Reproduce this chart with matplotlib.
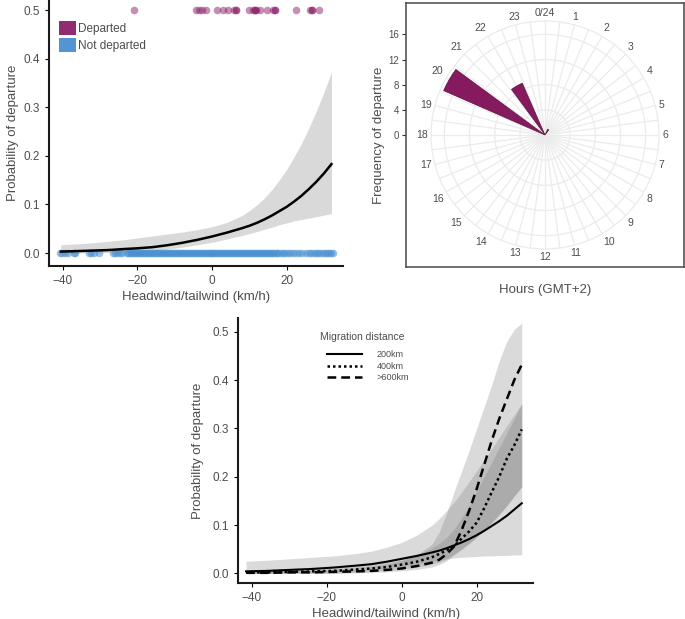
import numpy as np
import matplotlib
matplotlib.use("Agg")
import matplotlib.pyplot as plt
from matplotlib.patches import Patch

plt.rcParams['font.family'] = ['Liberation Sans', 'DejaVu Sans']

# ---------------- data: panel A (top-left) ----------------
departed_x = [-21.0, -4.3, -3.4, -2.7, -1.6, 1.4, 2.9, 4.3, 6.0, 6.4, 6.5,
              10.0, 11.1, 11.4, 11.5, 11.8, 12.9, 14.7, 16.3, 16.8, 16.9,
              22.5, 26.3, 26.8, 26.9, 28.6]
not_departed_x = [-40.6, -40.2, -39.5, -38.6, -37.0, -36.6, -33.0, -32.5, -31.5,
                  -30.2, -26.6, -26.0, -25.5, -24.6, -24.0,
                  -22.8, -22.4, -22.0, -21.6, -21.2, -20.8, -20.4, -20.0, -19.6,
                  -19.2, -18.8, -18.4, -18.0, -17.6, -17.2, -16.8, -16.4, -16.0,
                  -15.6, -15.2, -14.8, -14.4, -14.0, -13.6, -13.2, -12.8, -12.4,
                  -12.0, -11.6, -11.2, -10.8, -10.4, -10.0, -9.6, -9.2, -8.8,
                  -8.4, -8.0, -7.6, -7.2, -6.8, -6.4, -6.0, -5.6, -5.2, -4.8,
                  -4.4, -4.0, -3.6, -3.2, -2.8, -2.4, -2.0, -1.6, -1.2, -0.8,
                  -0.4, 0.0, 0.4, 0.8, 1.2, 1.6, 2.0, 2.4, 2.8, 3.2, 3.6, 4.0,
                  4.4, 4.8, 5.2, 5.6, 6.0, 6.4, 6.8, 7.2, 7.6, 8.0, 8.4, 8.8,
                  9.2, 9.6, 10.0, 10.4, 10.8, 11.2, 11.6, 12.0, 12.4, 12.8,
                  13.2, 13.6, 14.0, 14.4, 14.8, 15.2, 15.6, 16.0, 16.4, 16.8,
                  17.3, 17.8, 18.4, 19.0, 19.6, 20.3, 21.0, 21.7, 22.5, 23.3,
                  24.1, 25.2, 26.0, 26.6, 27.2, 27.8, 28.4, 29.0, 29.6, 30.2,
                  30.8, 31.4, 32.0, 32.4]
fit_x = [-40.5, -36, -32, -28, -24, -20, -16, -12, -8, -4, 0, 4, 8, 10, 12,
         14, 16, 18, 20, 22, 24, 26, 28, 30, 32]
fit_p = [0.003, 0.004, 0.005, 0.006, 0.008, 0.0097, 0.012, 0.016, 0.021,
         0.027, 0.034, 0.042, 0.051, 0.056, 0.062, 0.069, 0.077, 0.086,
         0.095, 0.106, 0.118, 0.132, 0.147, 0.164, 0.183]
fit_lo = [0.0, 0.0, 0.0005, 0.001, 0.002, 0.003, 0.005, 0.008, 0.012, 0.017,
          0.022, 0.029, 0.036, 0.040, 0.044, 0.049, 0.053, 0.058, 0.062,
          0.066, 0.069, 0.072, 0.075, 0.078, 0.081]
fit_hi = [0.017, 0.019, 0.021, 0.024, 0.027, 0.031, 0.035, 0.039, 0.043,
          0.048, 0.054, 0.063, 0.077, 0.087, 0.099, 0.113, 0.130, 0.150,
          0.172, 0.198, 0.226, 0.258, 0.293, 0.331, 0.372]

# ---------------- data: panel B (polar) ----------------
hours = [2, 20, 22]
freq = [1, 17.6, 9]
hour_labels = ['0/24'] + [str(h) for h in range(1, 24)]

# ---------------- data: panel C (bottom) ----------------
cx = [-41.5, -36, -30, -24, -18, -12, -8, -4, 0, 4, 8, 10, 12, 14, 16, 18,
      20, 22, 24, 26, 28, 30, 32]
p200 = [0.004, 0.005, 0.007, 0.009, 0.012, 0.016, 0.019, 0.024, 0.030, 0.036,
        0.043, 0.047, 0.052, 0.058, 0.064, 0.071, 0.079, 0.088, 0.098, 0.108,
        0.119, 0.132, 0.145]
p400 = [0.002, 0.002, 0.003, 0.004, 0.005, 0.008, 0.010, 0.013, 0.018, 0.024,
        0.033, 0.040, 0.048, 0.057, 0.072, 0.087, 0.105, 0.135, 0.168, 0.200,
        0.237, 0.265, 0.298]
p600 = [0.001, 0.001, 0.002, 0.002, 0.003, 0.004, 0.005, 0.007, 0.010, 0.015,
        0.022, 0.028, 0.040, 0.056, 0.090, 0.130, 0.175, 0.225, 0.275, 0.320,
        0.360, 0.400, 0.432]
b200_lo = [0.0, 0.0, 0.001, 0.002, 0.003, 0.005, 0.008, 0.011, 0.015, 0.020,
           0.025, 0.028, 0.030, 0.032, 0.033, 0.034, 0.035, 0.036, 0.036,
           0.037, 0.037, 0.038, 0.038]
b200_hi = [0.025, 0.027, 0.030, 0.033, 0.036, 0.041, 0.046, 0.054, 0.064,
           0.079, 0.099, 0.113, 0.130, 0.148, 0.168, 0.190, 0.212, 0.235,
           0.258, 0.281, 0.305, 0.328, 0.352]
b400_lo = [0.0, 0.0, 0.0, 0.0, 0.0005, 0.002, 0.004, 0.006, 0.009, 0.013,
           0.019, 0.023, 0.030, 0.040, 0.050, 0.062, 0.075, 0.090, 0.105,
           0.122, 0.140, 0.160, 0.179]
b400_hi = [0.006, 0.006, 0.007, 0.008, 0.010, 0.014, 0.017, 0.022, 0.028,
           0.038, 0.052, 0.062, 0.075, 0.092, 0.115, 0.140, 0.170, 0.200,
           0.230, 0.260, 0.290, 0.320, 0.350]
b600_lo = [0.0, 0.0, 0.0, 0.0, 0.0, 0.001, 0.002, 0.003, 0.005, 0.008, 0.013,
           0.018, 0.026, 0.038, 0.050, 0.062, 0.075, 0.090, 0.105, 0.122,
           0.140, 0.160, 0.179]
b600_hi = [0.004, 0.004, 0.005, 0.006, 0.008, 0.011, 0.014, 0.019, 0.026,
           0.038, 0.060, 0.085, 0.125, 0.170, 0.212, 0.255, 0.300, 0.345,
           0.390, 0.440, 0.480, 0.505, 0.518]

FIG_W, FIG_H = 685, 619
fig = plt.figure(figsize=(FIG_W / 100, FIG_H / 100), dpi=100)


def rect(x0, y0, x1, y1):
    return [x0 / FIG_W, 1 - y1 / FIG_H, (x1 - x0) / FIG_W, (y1 - y0) / FIG_H]


txt_col = '#4d4d4d'
tick_fs = 8.5
lab_fs = 9.5

# ---------------- Panel A ----------------
ax = fig.add_axes(rect(49, 0, 343, 266))
ax.fill_between(fit_x, fit_lo, fit_hi, color='#d9d9d9', lw=0)
ax.scatter(not_departed_x, [0.0] * len(not_departed_x), s=30, color='#4A8FCF',
           alpha=0.55, lw=0, zorder=3)
ax.scatter(departed_x, [0.5] * len(departed_x), s=30, color='#8C1F68',
           alpha=0.5, lw=0, zorder=3)
ax.plot(fit_x, fit_p, color='black', lw=1.8, zorder=4)
ax.set_xlim(-43.66, 35.09)
ax.set_ylim(-0.0267, 0.5206)
ax.set_xticks([-40, -20, 0, 20])
ax.set_xticklabels(['\u221240', '\u221220', '0', '20'])
ax.set_yticks([0, 0.1, 0.2, 0.3, 0.4, 0.5])
ax.set_yticklabels(['0.0', '0.1', '0.2', '0.3', '0.4', '0.5'])
for s in ['top', 'right']:
    ax.spines[s].set_visible(False)
for s in ['left', 'bottom']:
    ax.spines[s].set_linewidth(1.5)
    ax.spines[s].set_color('#1a1a1a')
ax.tick_params(labelsize=tick_fs, labelcolor=txt_col, length=3, width=0.8)
ax.set_xlabel('Headwind/tailwind (km/h)', fontsize=lab_fs, color=txt_col, labelpad=3)
ax.set_ylabel('Probability of departure', fontsize=lab_fs, color=txt_col, labelpad=3)
handles = [Patch(facecolor='#8C1F68', edgecolor='none', alpha=0.95),
           Patch(facecolor='#4A8FCF', edgecolor='none', alpha=0.95)]
ax.legend(handles, ['Departed', 'Not departed'], loc='upper left',
          bbox_to_anchor=(0.035, 0.92), frameon=False, fontsize=8.5,
          handlelength=1.4, handleheight=1.45, handletextpad=0.2,
          labelspacing=0.22, labelcolor=txt_col, borderaxespad=0, borderpad=0)

# ---------------- Panel B (polar) ----------------
px_per_unit = 6.29
cxp, cyp = 545, 135
R_px = 114
axf = fig.add_axes(rect(406, 3, 684, 267))
half_h = (264 / 2) / px_per_unit
axf.set_ylim(-half_h, half_h)
axf.set_xlim(0, 1)
axf.set_xticks([])
axf.set_yticks([0, 4, 8, 12, 16])
axf.tick_params(axis='y', labelsize=7, labelcolor=txt_col, length=3, width=0.8,
                pad=2, color='#333333')
for s in axf.spines.values():
    s.set_color('#555555')
    s.set_linewidth(1.2)
axf.patch.set_alpha(0)
axf.set_ylabel('Frequency of departure', fontsize=lab_fs, color=txt_col, labelpad=2)
axf.set_zorder(2)

axp = fig.add_axes(rect(cxp - R_px, cyp - R_px, cxp + R_px, cyp + R_px),
                   projection='polar')
axp.set_theta_zero_location('N')
axp.set_theta_direction(-1)
theta = [h / 24 * 2 * np.pi for h in hours]
axp.bar(theta, freq, width=0.85 / 24 * 2 * np.pi, color='#861A5E',
        edgecolor='#4a0c33', lw=0.4, zorder=3)
axp.set_ylim(0, R_px / px_per_unit)
axp.set_yticks([4, 8, 12, 16])
axp.set_yticklabels([])
axp.set_xticks(np.deg2rad(np.arange(0, 360, 7.5)))
axp.set_xticklabels([])
axp.grid(True, color='#ebebeb', lw=0.9)
axp.spines['polar'].set_color('#ebebeb')
axp.spines['polar'].set_linewidth(0.9)
axp.tick_params(length=0)
for h, lab in enumerate(hour_labels):
    th = h / 24 * 2 * np.pi
    s, c = np.sin(th), np.cos(th)
    ha = 'left' if s > 0.35 else ('right' if s < -0.35 else 'center')
    va = 'bottom' if c > 0.35 else ('top' if c < -0.35 else 'center')
    axp.annotate(lab, xy=(th, R_px / px_per_unit), xytext=(2.4 * s, 2.4 * c),
                 textcoords='offset points', fontsize=7.5, color=txt_col,
                 ha=ha, va=va, annotation_clip=False)
fig.text(545 / FIG_W, 1 - 290 / FIG_H, 'Hours (GMT+2)', fontsize=lab_fs,
         color=txt_col, ha='center', va='center')

# ---------------- Panel C ----------------
axc = fig.add_axes(rect(238.3, 318, 533, 583.3))
band_col = '#7a7a7a'
axc.fill_between(cx, b200_lo, b200_hi, color=band_col, alpha=0.28, lw=0)
axc.fill_between(cx, b400_lo, b400_hi, color=band_col, alpha=0.28, lw=0)
axc.fill_between(cx, b600_lo, b600_hi, color=band_col, alpha=0.28, lw=0)
axc.plot(cx, p200, color='black', lw=1.5, ls='-', label='200km')
axc.plot(cx, p400, color='black', lw=1.8, ls=(0, (1, 1.2)), label='400km')
axc.plot(cx, p600, color='black', lw=1.8, ls=(0, (3.5, 2)), label='>600km')
axc.set_xlim(-43.57, 35.0)
axc.set_ylim(-0.0207, 0.5286)
axc.set_xticks([-40, -20, 0, 20])
axc.set_xticklabels(['\u221240', '\u221220', '0', '20'])
axc.set_yticks([0, 0.1, 0.2, 0.3, 0.4, 0.5])
axc.set_yticklabels(['0.0', '0.1', '0.2', '0.3', '0.4', '0.5'])
for s in ['top', 'right']:
    axc.spines[s].set_visible(False)
for s in ['left', 'bottom']:
    axc.spines[s].set_linewidth(1.5)
    axc.spines[s].set_color('#1a1a1a')
axc.tick_params(labelsize=tick_fs, labelcolor=txt_col, length=3, width=0.8)
axc.set_xlabel('Headwind/tailwind (km/h)', fontsize=lab_fs, color=txt_col, labelpad=3)
axc.set_ylabel('Probability of departure', fontsize=lab_fs, color=txt_col, labelpad=6)
fig.text(362 / FIG_W, 1 - 337 / FIG_H, 'Migration distance', fontsize=7.5,
         color=txt_col, ha='center', va='center')
leg = axc.legend(loc='upper left', bbox_to_anchor=(0.300, 0.878),
                 frameon=False, fontsize=6.5, handlelength=3.9,
                 labelspacing=0.28, handletextpad=1.6, borderpad=0,
                 borderaxespad=0)
for t in leg.get_texts():
    t.set_color(txt_col)

fig.savefig('out.png', dpi=100)
